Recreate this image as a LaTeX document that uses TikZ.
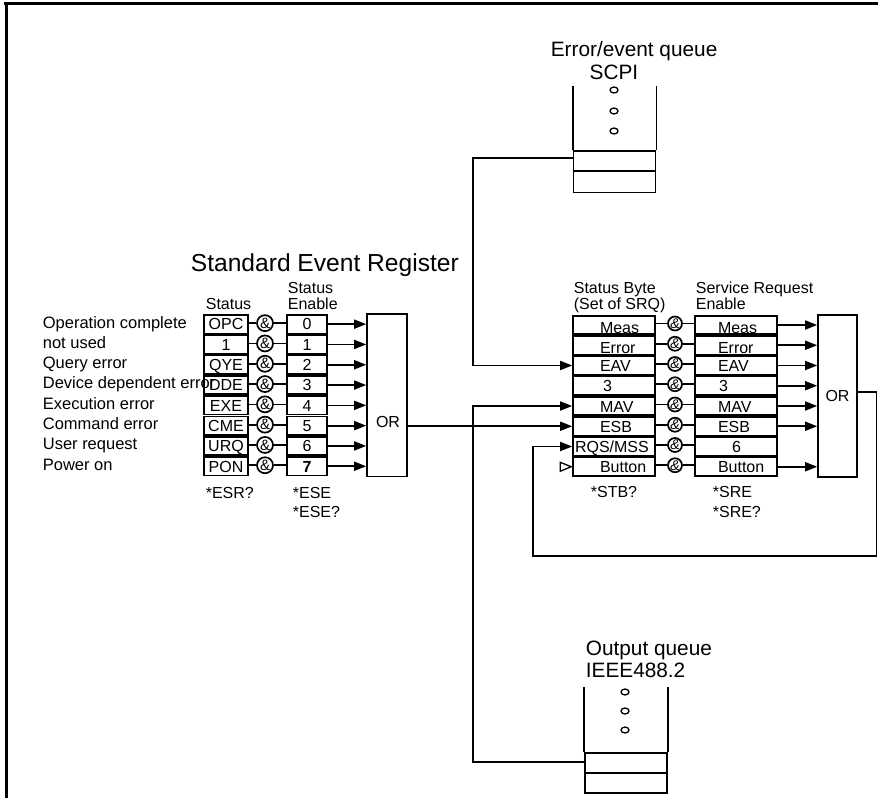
\documentclass[tikz,border=0pt]{standalone}
\usepackage{fontspec}
\setmainfont{Liberation Sans}
\usetikzlibrary{arrows.meta,calc}
\newcommand\fszA{\fontsize{16}{19}\selectfont}
\newcommand\fszB{\fontsize{16.5}{19}\selectfont}
\newcommand\fszC{\fontsize{20.8}{24}\selectfont}
\newcommand\fszD{\fontsize{24.6}{28}\selectfont}
\newcommand\fszAnd{\fontsize{15}{17}\selectfont}
\newcommand\fszAndR{\fontsize{14}{16}\selectfont\itshape}
\begin{document}
\begin{tikzpicture}[x=1pt,y=-1pt,line width=1.7pt,
  rowbox/.style={draw,rectangle,inner sep=0pt,minimum height=18.4pt,font=\fszA,text height=11.5pt,text depth=0pt},
  andc/.style={draw,circle,inner sep=0pt},
  arr/.style={-{Triangle[length=12pt,width=9pt]}},
  txt/.style={font=\fszA,inner sep=0pt},
  lbl/.style={font=\fszB,inner sep=0pt},
  qtitle/.style={font=\fszC,inner sep=0pt},
  slot/.style={draw,rectangle,inner sep=0pt,minimum width=82pt},
  dotc/.style={line width=1.3pt}]
\useasboundingbox (0,0) rectangle (878,798);
% frame
\draw[line width=3pt] (4,3) -- (878,3);
\draw[line width=3pt] (6,3) -- (6,798);

% ---------- Standard Event Register ----------
\node[anchor=base west,font=\fszD,inner sep=0pt] (ttlA) at (190,271) {Standard Event Register};
\node[txt,anchor=base west] (hSt) at (205,309) {Status};
\node[txt,anchor=base west] (hEn1) at (287,293) {Status};
\node[txt,anchor=base west] (hEn2) at (287,309) {Enable};
\node[draw,inner sep=0pt,minimum width=40pt,minimum height=162.4pt] (orA) at (387,395.2) {};
\node[txt,text height=11.5pt,text depth=0pt] (orAl) at (388,422) {OR};
\foreach \i/\s/\e/\lab in {0/OPC/0/Operation complete,1/1/1/not used,2/QYE/2/Query error,3/DDE/3/Device dependent error,4/EXE/4/Execution error,5/CME/5/Command error,6/URQ/6/User request,7/PON/{\bfseries 7}/Power on}{
  \pgfmathsetmacro\yc{324.15+20.3*\i}
  \node[lbl,anchor=base west] (lb\i) at (42,\yc+3.85) {\lab};
  \node[rowbox,minimum width=44pt] (st\i) at (226,\yc) {\s};
  \node[rowbox,minimum width=40pt] (en\i) at (307,\yc) {\e};
  \node[andc,minimum size=16pt,font=\fszAnd] (ac\i) at (265,\yc-1) {\&};
  \draw (st\i.east |- ac\i) -- (ac\i) -- (en\i.west |- ac\i);
  \draw[arr] (en\i.east) -- (en\i.east -| orA.west);
}
\node[txt,anchor=base west] (bESR) at (205,498) {*ESR?};
\node[txt,anchor=base west] (bESE) at (292,498) {*ESE};
\node[txt,anchor=base west] (bESEq) at (292,517) {*ESE?};

% ---------- Status Byte / Service Request Enable ----------
\node[txt,anchor=base west] (hSB1) at (573,293) {Status Byte};
\node[txt,anchor=base west] (hSB2) at (573,309) {(Set of SRQ)};
\node[txt,anchor=base west] (hSR1) at (695,293) {Service Request};
\node[txt,anchor=base west] (hSR2) at (695,309) {Enable};
\node[draw,inner sep=0pt,minimum width=39pt,minimum height=162pt,font=\fszA,text height=11.5pt,text depth=0pt] (or2) at (837.5,396) {OR};
\foreach \i/\a/\ax/\dy/\b/\bx in {0/Meas/27/8/Meas/23,1/Error/27/8/Error/23,2/EAV/27/6/EAV/23,3/3/30/6/3/24,4/MAV/27/6/MAV/23,5/ESB/27/6/ESB/23,6/{RQS/MSS}/2/6/6/37,7/Button/27/6/Button/23}{
  \pgfmathsetmacro\yc{325+20.25*\i}
  \node[rowbox,minimum width=82pt] (sb\i) at (614,\yc) {};
  \node[rowbox,minimum width=82pt] (se\i) at (736,\yc) {};
  \node[txt,anchor=base west] (sbt\i) at ($(sb\i.west)+(\ax,\dy)$) {\a};
  \node[txt,anchor=base west] (set\i) at ($(se\i.west)+(\bx,\dy)$) {\b};
  \node[andc,minimum size=14pt,font=\fszAndR] (rc\i) at (675,\yc-1.5) {\&};
  \draw (sb\i.east |- rc\i) -- (rc\i) -- (se\i.west |- rc\i);
}
\foreach \i in {0,1,2,3,4,5,7}{
  \draw[arr] (se\i.east) -- (se\i.east -| or2.west);
}
\node[txt,anchor=base west] (bSTB) at (590,497) {*STB?};
\node[txt,anchor=base west] (bSRE) at (712,497) {*SRE};
\node[txt,anchor=base west] (bSREq) at (712,517) {*SRE?};
% open triangle on Button row
\draw[line width=1.3pt] ($(sb7.west)+(-12,-4.5)$) -- ($(sb7.west)+(-1,0)$) -- ($(sb7.west)+(-12,4.5)$) -- cycle;

% Std OR -> ESB
\draw[arr] (orA.east |- sb5.west) -- (sb5.west);
% feedback loop
\coordinate (fbR) at (876.5,556);
\coordinate (fbL) at (533,556);
\draw[arr] ([yshift=4pt]or2.east) -| (fbR) -- (fbL) |- (sb6.west);

% ---------- Error/event queue ----------
\node[qtitle,anchor=base west] (eqT1) at (550,56) {Error/event queue};
\node[qtitle,anchor=base] (eqT2) at (614,79) {SCPI};
\node[slot,minimum height=20pt] (eq1) at (614.5,161) {};
\node[slot,minimum height=21pt] (eq2) at (614.5,182) {};
\draw (eq1.north west) -- ++(0,-64);
\draw (eq1.north east) -- ++(0,-64);
\foreach \yy in {90,111,131}{\draw[dotc] (614,\yy) ellipse [x radius=4pt,y radius=3pt];}
\coordinate (busT) at (473,158);
\draw[arr] ([yshift=3pt]eq1.west) -- (busT) |- (sb2.west);

% ---------- Output queue ----------
\node[qtitle,anchor=base west] (oqT1) at (585,655) {Output queue};
\node[qtitle,anchor=base west] (oqT2) at (585,677) {IEEE488.2};
\node[slot,minimum height=20pt] (oq1) at (626,763) {};
\node[slot,minimum height=20pt] (oq2) at (626,783.3) {};
\draw (oq1.north west) -- ++(0,-65);
\draw (oq1.north east) -- ++(0,-65);
\foreach \yy in {692,711,730}{\draw[dotc] (625,\yy) ellipse [x radius=4pt,y radius=3pt];}
\coordinate (busB) at (473,762);
\draw[arr] ([yshift=1pt]oq1.west) -- (busB) |- (sb4.west);
\end{tikzpicture}
\end{document}
